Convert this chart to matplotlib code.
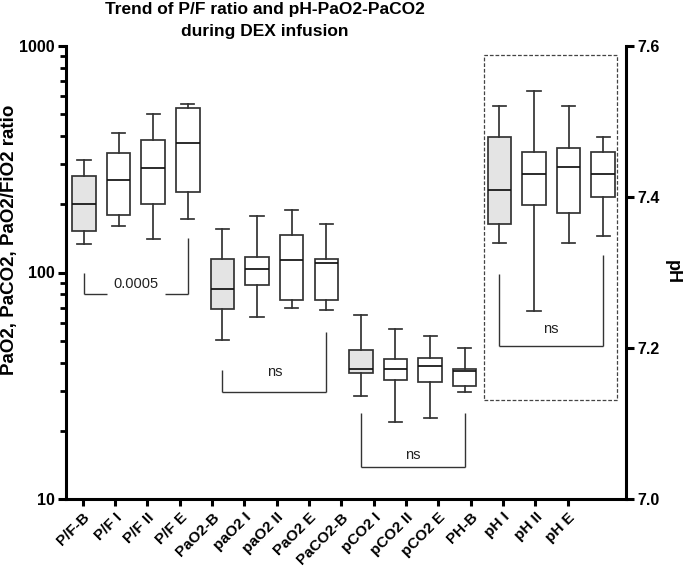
import numpy as np
import matplotlib
matplotlib.use("Agg")
import matplotlib.pyplot as plt
from matplotlib.ticker import LogLocator, NullFormatter, FixedLocator
from matplotlib.patches import Rectangle

plt.rcParams['font.family'] = ['Liberation Sans', 'DejaVu Sans']

# ---------------- data ----------------
categories = ["P/F-B", "P/F I", "P/F II", "P/F E",
              "PaO2-B", "paO2 I", "paO2 II", "PaO2 E",
              "PaCO2-B", "pCO2 I", "pCO2 II", "pCO2 E",
              "PH-B", "pH I", "pH II", "pH E"]

# left (log) axis series: P/F, PaO2, PaCO2
whisk_lo = [134, 160, 140, 173, 50.5, 63.4, 69.8, 68.6, 28.6, 21.8, 22.7, 29.6]
q1       = [153, 180, 201, 226, 69.0, 88.5, 75.7, 75.7, 36.1, 33.6, 32.7, 31.6]
median   = [201, 255, 288, 373, 84.4, 103.4, 113, 109.6, 37.5, 37.5, 38.6, 36.6]
q3       = [268, 336, 384, 535, 115, 117, 147, 115, 45.5, 41.3, 42.1, 37.5]
whisk_hi = [315, 415, 501, 552, 155, 178, 189, 164, 65.2, 56.1, 52.6, 46.4]

# right (linear) axis series: pH
ph_lo  = [7.339, 7.249, 7.339, 7.349]
ph_q1  = [7.364, 7.389, 7.379, 7.400]
ph_med = [7.409, 7.430, 7.440, 7.430]
ph_q3  = [7.480, 7.460, 7.465, 7.460]
ph_hi  = [7.520, 7.541, 7.520, 7.480]

baseline_idx = [0, 4, 8, 12]

# comparison brackets: (first idx, last idx, left top, right top, bottom, label, label y, axis)
brackets = [
    (0, 3, 100, 142, 80, "0.0005", 89.3, "left"),
    (4, 7, 37.2, 54.5, 29.7, "ns", 36.2, "left"),
    (8, 11, 24.0, 24.0, 13.9, "ns", 15.7, "left"),
    (12, 15, 7.298, 7.323, 7.203, "ns", 7.225, "right"),
]

# ---------------- figure ----------------
fig = plt.figure(figsize=(6.85, 5.69), dpi=100)
ax = fig.add_axes([66/685, 1 - 499/569, (626-66)/685, (499-46)/569])
ax2 = ax.twinx()

edge = '#333333'
lw = 1.25

def stats_list(lo, a, m, b, hi):
    return [dict(whislo=lo[i], q1=a[i], med=m[i], q3=b[i], whishi=hi[i], fliers=[])
            for i in range(len(lo))]

def draw(axis, stats, positions):
    res = axis.bxp(stats, positions=positions, widths=0.68, patch_artist=True,
                   showfliers=False, manage_ticks=False,
                   boxprops=dict(edgecolor=edge, linewidth=lw),
                   whiskerprops=dict(color=edge, linewidth=lw),
                   capprops=dict(color=edge, linewidth=lw),
                   medianprops=dict(color='#111111', linewidth=lw),
                   capwidths=0.38)
    for p, box in zip(positions, res['boxes']):
        box.set_facecolor('#e4e4e4' if p in baseline_idx else 'white')
    return res

left_pos = list(range(12))
right_pos = list(range(12, 16))
draw(ax, stats_list(whisk_lo, q1, median, q3, whisk_hi), left_pos)
draw(ax2, stats_list(ph_lo, ph_q1, ph_med, ph_q3, ph_hi), right_pos)

ax.set_yscale('log')
ax.set_ylim(10, 1000)
ax.set_xlim(-0.52, 15.66)
ax2.set_ylim(7.0, 7.6)

# brackets
for (i0, i1, ltop, rtop, bot, lab, ly, which) in brackets:
    a = ax if which == "left" else ax2
    kw = dict(color='#333333', linewidth=1.0, solid_capstyle='butt')
    a.plot([i0, i0], [ltop, bot], **kw)
    a.plot([i1, i1], [rtop, bot], **kw)
    mid = (i0 + i1) / 2
    if lab == "0.0005":
        a.plot([i0, mid - 0.83], [bot, bot], **kw)
        a.plot([mid + 0.83, i1], [bot, bot], **kw)
    else:
        a.plot([i0, i1], [bot, bot], **kw)
    a.text(mid, ly, lab, ha='center', va='center', fontsize=10.5, color='#222222')

# dashed frame around pH group
ax2.add_patch(Rectangle((11.56, 7.131), 15.40 - 11.56, 7.588 - 7.131, fill=False,
                        edgecolor='#444444', linewidth=0.9, linestyle=(0, (3, 1.5))))

# axes styling
ax.spines['top'].set_visible(False)
ax2.spines['top'].set_visible(False)
ax.spines['left'].set_linewidth(2.2)
ax.spines['bottom'].set_linewidth(2.2)
ax2.spines['right'].set_linewidth(2.2)
ax2.spines['left'].set_visible(False)
ax2.spines['bottom'].set_visible(False)

ax.yaxis.set_major_locator(FixedLocator([10, 100, 1000]))
ax.yaxis.set_minor_locator(LogLocator(base=10, subs=np.arange(2, 10)))
ax.yaxis.set_minor_formatter(NullFormatter())
ax.set_yticklabels(["10", "100", "1000"], fontweight='bold', fontsize=11.5)
ax.tick_params(axis='y', which='major', direction='out', length=6, width=2.2, pad=2)
ax.tick_params(axis='y', which='minor', direction='out', length=4, width=2.0)

ax2.set_yticks([7.0, 7.2, 7.4, 7.6])
ax2.set_yticklabels(["7.0", "7.2", "7.4", "7.6"], fontweight='bold', fontsize=11.5)
ax2.tick_params(axis='y', direction='out', length=6, width=2.2, pad=2)

tick_pos = np.arange(16) * 0.934 - 0.04
ax.set_xticks(tick_pos)
ax.set_xticklabels(categories, rotation=45, ha='right', rotation_mode='anchor',
                   fontweight='bold', fontsize=11)
ax.tick_params(axis='x', direction='out', length=5, width=2.2, pad=3)

ax.set_ylabel("PaO2, PaCO2, PaO2/FiO2 ratio", fontsize=13.5, fontweight='bold')
ax.yaxis.set_label_coords((18 - 66) / 560, (499 - 240) / 453)
ax2.set_ylabel("pH", fontsize=13, fontweight='bold', rotation=270, va='center')
ax2.yaxis.set_label_coords((672 - 66) / 560, (499 - 272) / 453)

fig.text(265/685, 1 - 2/569, "Trend of P/F ratio and pH-PaO2-PaCO2\nduring DEX infusion",
         fontsize=12.5, fontweight='bold', ha='center', va='top',
         linespacing=1.6)

fig.savefig("out.png", dpi=100)
